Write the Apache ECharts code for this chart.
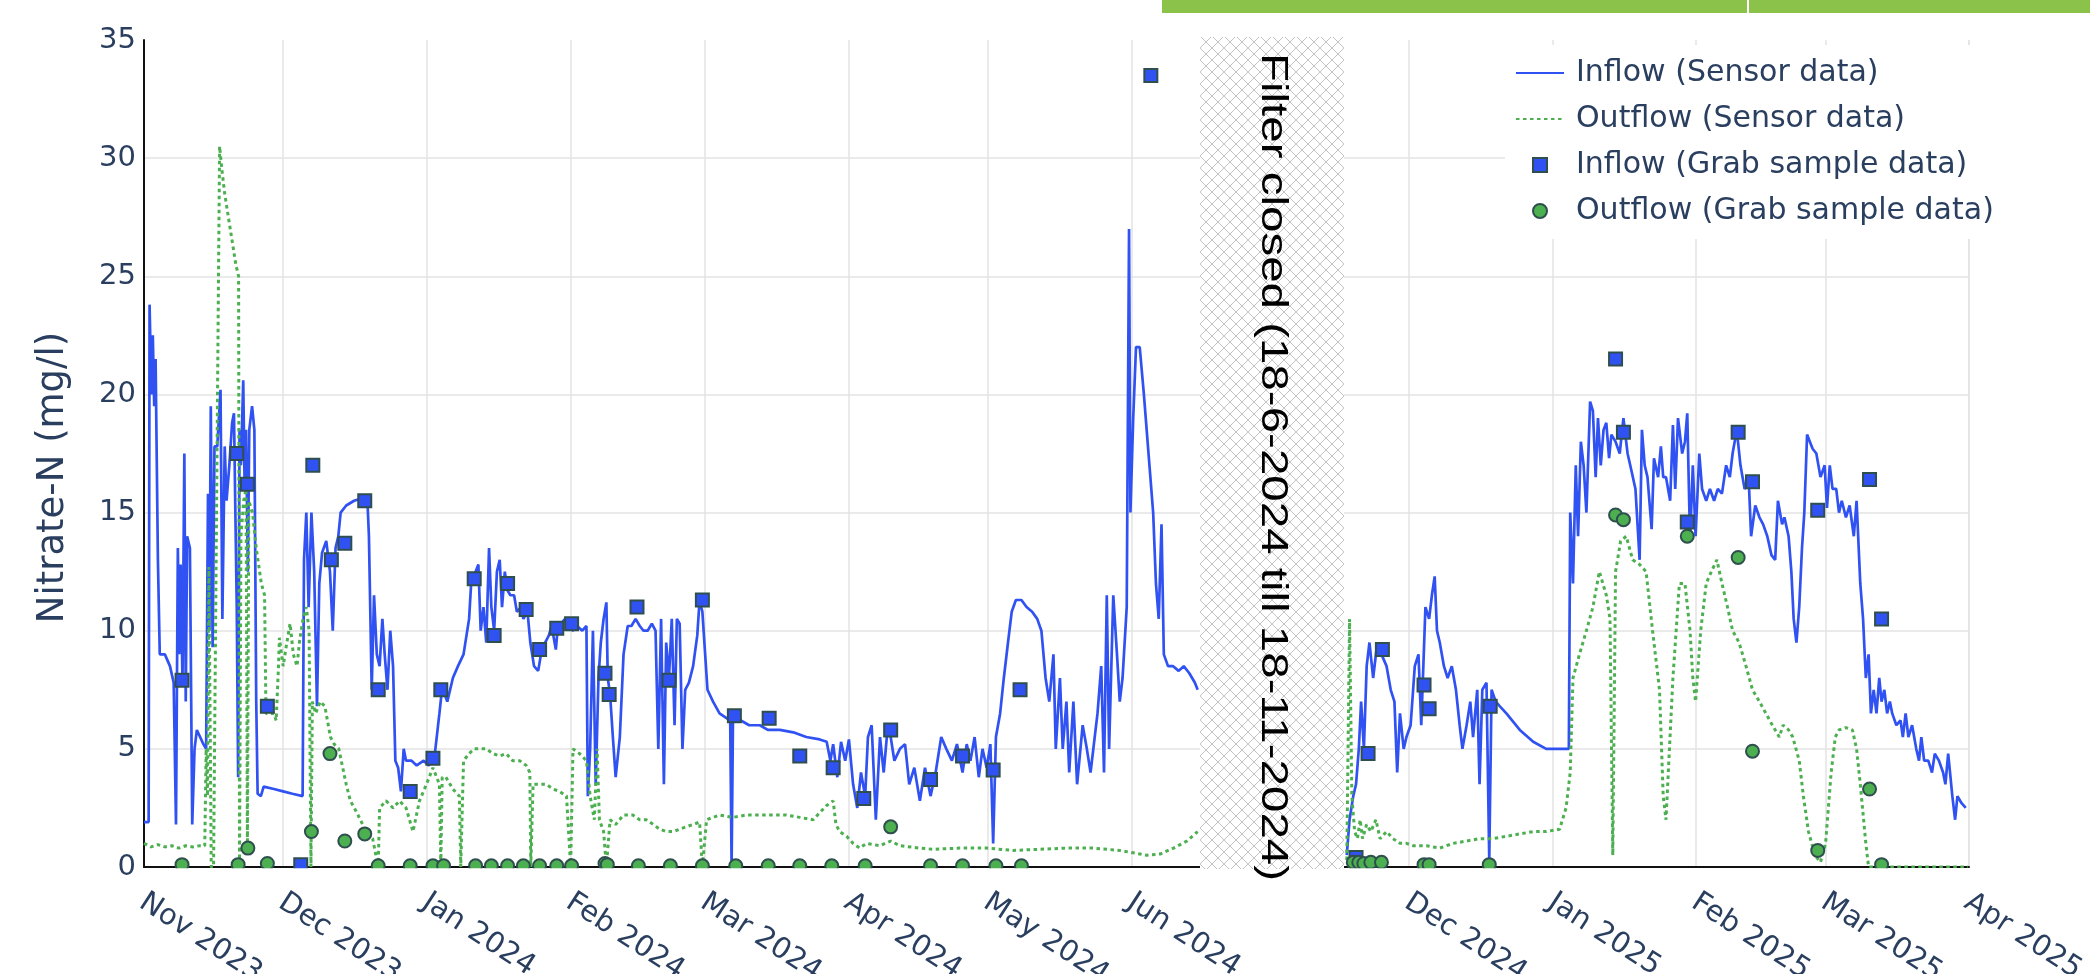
<!DOCTYPE html>
<html>
<head>
<meta charset="utf-8">
<title>Nitrate-N inflow and outflow</title>
<script src="https://cdn.jsdelivr.net/npm/echarts@6/dist/echarts.min.js"></script>
<style>
  html, body { margin: 0; padding: 0; background: #ffffff; }
  #chart { width: 2090px; height: 974px; }
</style>
</head>
<body>
<div id="chart"></div>
<script>
// ---- Measurement series -------------------------------------------------
// Period A: days since 1 Nov 2023, Period B: days since 1 Dec 2024 (negative = late Nov 2024).
// Each row: [day, nitrate-N in mg/l]

const inflowSensorA = [
  [0,1.9],[1.0,1.9],[1.2,23.8],[1.6,20],[1.9,22.5],[2.2,19.5],[2.5,21.5],[3.0,13],[3.4,9],[4.5,9],
  [5.6,8.5],[6.4,7.8],[6.9,1.8],[7.3,13.5],[7.6,9],[7.9,12.8],[8.3,7.8],[8.7,17.5],[9.0,7.0],[9.3,14],
  [9.9,13.5],[10.4,1.8],[10.9,5],[11.4,5.8],[12.1,5.5],[12.8,5.2],[13.4,5],[13.8,15.8],[14.1,10],[14.4,19.5],
  [14.8,9.3],[15.2,17.8],[15.8,17.8],[16.5,20.2],[16.9,10.5],[17.4,17.8],[17.8,15.5],[18.4,17],[19.0,18.8],[19.4,19.2],
  [19.7,15],[20.0,11],[20.3,3.8],[20.6,18.5],[20.9,17],[21.4,20.6],[21.7,16],[22.0,18.5],[22.4,12.5],[22.7,18.5],
  [23.3,19.5],[23.8,18.5],[24.2,7],[24.5,3.1],[25.2,3.0],[25.8,3.4],[28,3.3],[30,3.2],[32,3.1],[34.2,3.0],
  [34.5,13],[35.0,15],[35.5,11],[36.1,15],[36.7,12.5],[37.3,6.8],[37.8,12],[38.4,13.3],[39.3,13.8],[40.1,12.5],
  [40.7,10],[41.3,13.5],[41.9,14],[42.4,15],[43.6,15.3],[45.3,15.5],[47.0,15.6],[48.2,15.4],[48.5,14],[49.1,7.5],
  [49.6,11.5],[50.2,9],[50.8,8.5],[51.4,10.5],[51.9,9],[52.5,7.5],[53.1,10],[53.7,8.5],[54.2,4.5],[54.8,4.2],
  [55.4,3.2],[56.0,5],[56.5,4.5],[57.7,4.5],[58.8,4.3],[60.3,4.5],[61.4,4.3],[62.6,4.6],[63.7,6.5],[64.3,7.6],
  [65.4,7],[66.6,8],[67.7,8.5],[68.9,9],[70.1,10.5],[70.6,12.2],[71.5,12.5],[72.1,12.8],[72.6,10],[73.2,11],
  [73.8,9.5],[74.4,13.5],[74.9,11],[75.5,10],[76.1,12.5],[76.7,13],[77.2,11],[77.8,12.5],[78.4,11.7],[79.0,11.5],
  [79.8,11.5],[80.4,10.8],[81.3,11],[81.8,10.5],[82.7,10.8],[83.3,9.5],[84.1,8.5],[85.0,8.3],[85.6,9],[86.5,9.5],
  [87.3,9.8],[87.9,10.2],[88.8,9.2],[89.3,10.3],[89.9,10.3],[90.8,10.5],[91.3,10.2],[92.5,10],[93.4,10.2],[94.5,10],
  [95.4,10.2],[95.7,3],[96.2,5],[96.8,10],[97.4,3.5],[98.0,8],[98.5,9.5],[99.1,10.5],[99.7,11.2],[100.0,8],
  [100.5,7.3],[101.1,5.5],[101.7,3.8],[102.6,5.5],[103.4,9],[104.3,10.2],[105.1,10.2],[106.0,10.5],[106.9,10.2],[107.7,10],
  [108.6,10],[109.5,10.3],[110.3,10],[110.9,5],[111.5,10.5],[112.1,3.5],[112.6,9.5],[113.2,8],[113.8,10.5],[114.4,6],
  [114.9,10.5],[115.5,10.3],[116.1,5],[116.7,7.5],[117.5,7.8],[118.4,8.5],[119.3,9.8],[119.8,11.3],[120.4,10.8],[121.0,9],
  [121.5,7.5],[122.7,7],[124.1,6.5],[125.6,6.3],[126.4,6.2],[126.7,0],[127.0,6.3],[128.7,6.2],[130.5,6],[132.8,6],
  [134.5,5.8],[137.1,5.8],[140.0,5.7],[142.8,5.5],[145.7,5.4],[147.2,5.3],[148.0,4.5],[148.6,5.2],[149.5,3.8],[150.3,5.3],
  [151.2,4.5],[152.0,5.4],[152.9,3.5],[153.8,2.5],[154.6,4],[155.5,3],[156.1,5.5],[156.9,6],[157.8,2],[158.7,5.5],
  [159.5,4],[160.4,6],[161.0,5.5],[161.8,4.5],[163.0,5],[164.1,5.2],[165.0,3.5],[166.1,4.2],[167.3,2.8],[168.4,4.2],
  [169.6,3],[170.7,4],[171.9,5.5],[173.0,5],[174.2,4.5],[175.3,5.2],[176.5,4],[177.4,5.2],[178.2,4.5],[179.1,5.5],
  [180.0,3.8],[180.8,5],[181.7,4.2],[182.5,5.2],[183.1,1],[183.7,5.5],[184.6,6.5],[185.4,8],[186.3,9.5],[187.1,10.8],
  [188.0,11.3],[189.2,11.3],[190.3,11],[191.5,10.8],[192.6,10.5],[193.5,10],[194.4,8],[195.2,7],[196.1,9],[196.6,5],
  [197.5,8],[198.1,5],[198.9,7],[199.5,4],[200.4,7],[201.2,3.5],[202.4,6],[203.3,5],[204.1,4],[204.7,5],
  [205.6,6.5],[206.4,8.5],[207.0,4],[207.6,11.5],[208.1,5],[209.0,11.5],[209.8,9],[210.4,7],[211.0,8],[211.9,11],
  [212.4,27],[212.7,15],[213.3,19],[213.9,22],[214.7,22],[215.6,20],[216.8,17],[217.6,15],[218.2,12],[218.8,10.5],
  [219.4,14.5],[219.9,9],[220.8,8.5],[221.9,8.5],[223.1,8.3],[224.2,8.5],[225.4,8.2],[226.6,7.8],[227.2,7.5]
];

const outflowSensorA = [
  [0,1.0],[1.5,0.85],[3,0.95],[4.5,0.85],[6,0.9],[7.5,0.8],[9,0.9],[10.5,0.85],[12,0.9],[13.1,0.9],
  [13.4,5],[13.7,3],[14.0,12.7],[14.5,0],[15.0,0],[16.3,30.5],[16.8,29.5],[17.4,28.5],[18.2,27.5],[19.0,26.5],
  [19.8,25.5],[20.4,25],[20.6,0],[20.9,14],[21.5,15.5],[22.0,16],[22.3,0.8],[22.6,15.5],[23.4,15],[24.2,13.5],
  [25.3,12],[26.0,11.5],[26.3,6.5],[28.0,6.5],[28.5,6.2],[29.0,8.5],[29.2,9.7],[30.0,8.5],[30.8,9.5],[31.5,10.3],
  [32.2,9],[33.0,8.5],[33.5,9.5],[34.3,10.5],[35.0,11],[35.6,10],[36.0,0],[36.3,7],[37.0,6.5],[38.0,7],
  [39.0,6.8],[40.2,5.5],[41.0,5.2],[42.0,5],[43.6,3.5],[44.5,2.8],[45.9,2.3],[47.9,1.5],[49.3,1.2],[50.5,0],
  [50.8,2.5],[52.2,2.8],[53.7,2.5],[55.1,2.8],[56.5,2.5],[58.0,1.5],[59.4,2.8],[60.9,3.5],[62.3,4.2],[63.7,3.5],
  [64.0,0],[64.3,3.8],[65.1,3.8],[66.6,3.3],[68.0,3.0],[68.3,0],[68.9,4.5],[70.1,4.8],[71.2,5],[72.4,5],
  [73.8,5],[75.2,4.8],[76.7,4.7],[78.1,4.8],[79.5,4.5],[81.0,4.5],[82.4,4.3],[83.2,4],[83.4,0],[83.9,3.5],
  [85.3,3.5],[86.7,3.5],[88.2,3.3],[89.6,3.2],[91.1,3.0],[92.0,0],[92.5,5],[93.9,4.8],[95.4,4.5],[96.2,3],
  [97.1,2],[97.7,5],[98.2,2],[99.1,1.5],[99.7,0],[100.5,2],[101.7,1.8],[103.4,2.2],[105.4,2.2],[106.9,2.0],
  [108.3,2.0],[109.8,1.8],[111.2,1.6],[112.6,1.5],[114.1,1.5],[115.5,1.6],[116.9,1.7],[118.4,1.8],[119.8,1.9],[120.4,0],
  [121.3,2.0],[124.1,2.2],[127.0,2.1],[129.9,2.2],[132.8,2.2],[135.6,2.2],[138.5,2.2],[141.4,2.1],[144.3,2.0],[145.7,2.3],
  [147.2,2.6],[148.6,2.8],[149.2,1.8],[150.0,1.5],[151.5,1.3],[152.9,1.0],[154.3,0.8],[155.8,1.0],[158.7,0.9],[161.0,1.1],
  [163.0,0.9],[167.3,0.8],[170.2,0.75],[175.9,0.8],[181.7,0.8],[187.4,0.7],[193.2,0.75],[198.9,0.8],[204.7,0.8],[210.4,0.7],
  [213.3,0.6],[216.2,0.5],[219.1,0.55],[222.0,0.8],[224.9,1.1],[227.2,1.5]
];

const inflowGrabA = [
  [8.2,7.9],[20.0,17.5],[22.3,16.2],[26.6,6.8],[33.8,0.1],[36.4,17.0],[40.4,13.0],[43.3,13.7],[47.6,15.5],[50.5,7.5],
  [57.4,3.2],[62.3,4.6],[64.0,7.5],[71.2,12.2],[75.5,9.8],[78.4,12.0],[82.4,10.9],[85.3,9.2],[89.0,10.1],[92.2,10.3],
  [99.4,8.2],[100.3,7.3],[106.3,11.0],[113.2,7.9],[120.4,11.3],[127.3,6.4],[134.8,6.3],[141.4,4.7],[148.6,4.2],[155.2,2.9],
  [161.0,5.8],[169.6,3.7],[176.5,4.7],[183.1,4.1],[188.9,7.5],[217.1,33.5]
];

const outflowGrabA = [
  [8.2,0.1],[20.3,0.1],[22.4,0.8],[26.6,0.15],[36.1,1.5],[40.1,4.8],[43.3,1.1],[47.6,1.4],[50.5,0.05],[57.4,0.05],
  [62.3,0.05],[64.6,0.05],[71.5,0.05],[74.9,0.05],[78.4,0.05],[81.8,0.05],[85.3,0.05],[89.0,0.05],[92.2,0.05],[99.4,0.15],
  [99.9,0.1],[106.6,0.05],[113.5,0.05],[120.4,0.05],[127.6,0.05],[134.6,0.05],[141.4,0.05],[148.3,0.05],[155.5,0.05],[161.0,1.7],
  [169.6,0.05],[176.5,0.05],[183.7,0.05],[189.2,0.05]
];

const inflowSensorB = [
  [-13.5,0.5],[-12.9,2],[-12.1,3],[-11.5,3.5],[-10.9,5],[-10.4,7],[-9.8,5],[-9.2,8.5],[-8.6,9.5],[-7.8,8],
  [-6.9,9.5],[-6.0,9],[-4.9,8.5],[-4.0,7.5],[-3.2,7],[-2.6,4],[-2.0,6.5],[-1.2,5],[-0.6,5.5],[0.3,6],
  [1.2,8.5],[2.0,9],[2.6,6],[3.5,11],[4.3,10.5],[4.9,11.5],[5.5,12.3],[6.0,10],[6.6,9.5],[7.5,8.5],
  [8.3,8],[9.2,8.5],[10.1,7.5],[10.9,6],[11.5,5],[12.4,6],[13.2,7],[13.8,5.5],[14.7,7.5],[15.2,3.5],
  [15.8,7.5],[16.7,7.8],[17.3,0.3],[17.8,7.5],[18.7,7],[19.6,6.8],[21.0,6.5],[23.9,5.8],[26.8,5.3],[29.6,5],
  [32.5,5],[34.5,5],[34.8,15],[35.4,12],[36.0,17],[36.5,14],[37.1,18],[37.7,17],[38.3,15],[39.1,19.7],
  [39.7,19.3],[40.3,16.5],[40.8,19],[41.4,17],[42.0,18.5],[42.6,18.8],[43.2,17.3],[43.7,18.3],[44.6,18],[45.5,17.5],
  [46.3,19],[47.2,17.5],[48.0,16.8],[48.9,16],[49.8,13],[50.3,18.5],[50.9,17],[51.5,16.5],[52.4,14.3],[52.9,17.3],
  [53.8,16.5],[54.4,17.8],[54.9,16.5],[55.5,16.5],[56.4,15.5],[57.0,18.7],[57.5,16],[58.1,19],[59.0,17.5],[59.6,18],
  [60.1,19.2],[60.7,13.8],[61.3,17],[61.9,14],[62.7,17.5],[63.3,16],[64.2,15.5],[65.0,16],[65.9,15.5],[66.7,16],
  [67.6,15.8],[68.5,17],[69.3,16.5],[69.9,17.5],[70.8,18.5],[71.6,17],[72.5,16],[73.4,16.3],[73.9,14],[74.8,15.3],
  [75.7,14.8],[76.5,14.5],[77.4,14],[78.3,13.2],[79.1,13],[79.7,15.5],[80.6,14.5],[81.1,14.8],[82.0,14],[82.6,12.5],
  [83.1,10.5],[83.7,9.5],[84.3,11],[84.9,13.5],[85.4,15],[86.0,18.3],[86.6,18],[87.2,17.7],[88.0,17.5],[88.9,16.5],
  [89.8,17],[90.3,15.2],[90.9,17],[91.5,16],[92.3,16],[92.9,15],[93.5,15.5],[94.4,14.8],[95.2,15.3],[96.1,14],
  [96.7,15.5],[97.5,12],[98.1,10.5],[98.7,8],[99.3,9],[99.8,6.5],[100.4,7.5],[101.0,6.5],[101.6,8],[102.1,7],
  [102.7,7.5],[103.3,6.5],[103.9,7],[104.4,6.5],[105.3,6],[106.2,6.2],[106.7,5.5],[107.3,6.5],[107.9,5.5],[108.7,6],
  [109.6,5],[110.2,4.5],[110.7,5.5],[111.3,4.5],[112.2,4.5],[113.0,4],[113.6,4.8],[114.5,4.5],[115.4,4],[115.9,3.5],
  [116.5,4.8],[117.4,3],[118.0,2],[118.5,3],[119.4,2.7],[120.3,2.5]
];

const outflowSensorB = [
  [-13.5,0.3],[-12.9,10.5],[-12.4,3],[-11.8,1.5],[-11.2,1.2],[-10.6,2],[-10.1,1.2],[-9.2,1.8],[-8.3,1.5],[-7.2,2],
  [-6.3,1.2],[-4.9,1.5],[-3.5,1.2],[-2.0,1.0],[-0.6,1.0],[0.9,0.9],[3.7,0.9],[6.6,0.8],[9.5,1.0],[12.4,1.1],
  [15.2,1.2],[18.1,1.2],[21.0,1.3],[23.9,1.4],[26.8,1.5],[29.6,1.5],[32.5,1.6],[33.9,2.5],[34.8,4],[35.4,8],
  [36.8,9],[38.3,10],[39.7,11],[41.1,12.5],[42.6,11.5],[43.4,10.5],[44.0,0.5],[44.6,12.5],[45.7,13.8],[46.9,14],
  [48.3,13],[49.8,12.8],[51.2,12.5],[52.6,10],[54.1,7.5],[54.9,3],[55.5,2],[57.0,8],[58.4,12],[59.6,12],
  [60.7,10],[61.3,8],[61.9,7],[63.0,10],[64.2,12],[65.3,12.5],[66.5,13],[67.6,12],[68.8,11],[69.9,10],
  [71.3,9.5],[72.8,8.5],[74.2,7.5],[75.7,7],[77.1,6.5],[78.5,6],[80.0,5.5],[80.8,6],[82.0,5.8],[82.9,5.5],
  [84.3,4.5],[85.2,3],[86.3,1.5],[87.7,0.5],[88.9,0.2],[90.0,1],[91.2,4],[92.1,5.5],[92.9,5.8],[94.4,5.9],
  [95.8,5.8],[96.7,5],[97.5,3.5],[98.7,1],[99.3,0],[110.2,0],[120.8,0]
];

const inflowGrabB = [
  [-11.5,0.4],[-8.9,4.8],[-5.8,9.2],[3.2,7.7],[4.3,6.7],[17.5,6.8],[44.6,21.5],[46.3,18.4],[60.1,14.6],[71.1,18.4],
  [74.2,16.3],[88.3,15.1],[99.5,16.4],[102.1,10.5]
];

const outflowGrabB = [
  [-12.1,0.2],[-10.9,0.2],[-9.8,0.15],[-8.3,0.2],[-6.0,0.2],[3.2,0.1],[4.3,0.1],[17.3,0.1],[44.6,14.9],[46.3,14.7],
  [60.1,14.0],[71.1,13.1],[74.2,4.9],[88.3,0.7],[99.5,3.3],[102.1,0.1]
];

const seriesNames = [
  'Inflow (Sensor data)',
  'Outflow (Sensor data)',
  'Inflow (Grab sample data)',
  'Outflow (Grab sample data)'
];
const yTicks = { min: 0, max: 35, step: 5 };
const monthNames = ['Jan','Feb','Mar','Apr','May','Jun','Jul','Aug','Sep','Oct','Nov','Dec'];
const closedNote = 'Filter closed (18-6-2024 till 18-11-2024)';

// ---- Time origins and visible ranges ------------------------------------
const DAY = 86400000;
const ORIGIN_A = new Date(2023, 10, 1).getTime();
const ORIGIN_B = new Date(2024, 11, 1).getTime();
const RANGE_A = [ORIGIN_A, ORIGIN_A + 227.7 * DAY];
const RANGE_B = [ORIGIN_B - 14.1 * DAY, new Date(2025, 3, 1).getTime()];

const toPoints = (rows, origin) => rows.map(([d, v]) => [origin + d * DAY, v]);

// ---- Styling ------------------------------------------------------------
const FONT = 'DejaVu Sans';
const INK = '#2a3f5f';
const BLUE = '#3152f2';
const GREEN = '#4caf50';
const EDGE = '#2f4f4f';
const GRID_LINE = '#e3e3e3';

const PLOT_TOP = 40, PLOT_H = 827;
const A_LEFT = 144, A_W = 1056;
const B_LEFT = 1344, B_W = 625;

function hatchTile() {
  const s = 12;
  const c = document.createElement('canvas');
  c.width = s; c.height = s;
  const g = c.getContext('2d');
  g.fillStyle = '#ffffff';
  g.fillRect(0, 0, s, s);
  g.strokeStyle = '#c4c4c4';
  g.lineWidth = 1;
  g.beginPath();
  g.moveTo(0, 0); g.lineTo(s, s);
  g.moveTo(s, 0); g.lineTo(0, s);
  g.stroke();
  return c;
}

function monthLabel(v) {
  const d = new Date(v);
  return monthNames[d.getMonth()] + ' ' + d.getFullYear();
}

function timeAxis(gridIndex, range, first) {
  return {
    gridIndex,
    type: 'time',
    min: range[0],
    max: range[1],
    minInterval: 28 * DAY,
    maxInterval: 31 * DAY,
    axisLine: { show: true, onZero: false, lineStyle: { color: '#111111', width: 2 } },
    axisTick: { show: false },
    axisLabel: {
      rotate: -33,
      margin: 17,
      align: 'left',
      verticalAlign: 'top',
      padding: [0, 0, 0, 7],
      fontFamily: FONT,
      fontSize: 29,
      color: INK,
      showMinLabel: first,
      showMaxLabel: !first,
      hideOverlap: false,
      formatter: monthLabel
    },
    splitLine: {
      show: true,
      showMinLine: first,
      showMaxLine: !first,
      lineStyle: { color: GRID_LINE, width: 1.5 }
    }
  };
}

function valueAxis(gridIndex, first) {
  return {
    gridIndex,
    type: 'value',
    min: yTicks.min,
    max: yTicks.max,
    interval: yTicks.step,
    name: first ? 'Nitrate-N (mg/l)' : '',
    nameLocation: 'middle',
    nameGap: 72,
    nameTextStyle: { fontFamily: FONT, fontSize: 37, color: INK, padding: [0, 48, 0, 0] },
    axisLine: { show: first, lineStyle: { color: '#111111', width: 2 } },
    axisTick: { show: false },
    axisLabel: { show: first, fontFamily: FONT, fontSize: 29, color: INK, margin: 8 },
    splitLine: { show: true, showMaxLine: false, showMinLine: false, lineStyle: { color: GRID_LINE, width: 1.5 } }
  };
}

function sensorLine(name, rows, origin, axis, color, dotted) {
  return {
    name,
    type: 'line',
    xAxisIndex: axis,
    yAxisIndex: axis,
    data: toPoints(rows, origin),
    showSymbol: false,
    symbol: 'none',
    smooth: false,
    clip: true,
    lineStyle: dotted
      ? { color, width: 3, type: [3.5, 3.5] }
      : { color, width: 2.7 },
    itemStyle: { color },
    z: 2
  };
}

const SQUARE = 'path://M0,0H10V10H0Z';

function grabPoints(name, rows, origin, axis, color, symbol) {
  return {
    name,
    type: 'scatter',
    xAxisIndex: axis,
    yAxisIndex: axis,
    data: toPoints(rows, origin),
    symbol,
    symbolSize: 13,
    symbolKeepAspect: true,
    itemStyle: { color, borderColor: EDGE, borderWidth: 2, opacity: 1 },
    z: 3
  };
}

const chart = echarts.init(document.getElementById('chart'), null, { renderer: 'canvas' });

const option = {
  backgroundColor: '#ffffff',
  animation: false,
  textStyle: { fontFamily: FONT },
  grid: [
    { left: A_LEFT, top: PLOT_TOP, width: A_W, height: PLOT_H, containLabel: false, outerBoundsMode: 'none' },
    { left: B_LEFT, top: PLOT_TOP, width: B_W, height: PLOT_H, containLabel: false, outerBoundsMode: 'none' }
  ],
  xAxis: [timeAxis(0, RANGE_A, true), timeAxis(1, RANGE_B, false)],
  yAxis: [valueAxis(0, true), valueAxis(1, false)],
  legend: {
    orient: 'vertical',
    left: 1505,
    top: 45,
    padding: [13, 12, 13, 10],
    backgroundColor: '#ffffff',
    itemWidth: 48,
    itemHeight: 14,
    itemGap: 16,
    selectedMode: false,
    textStyle: { fontFamily: FONT, fontSize: 30, color: INK, lineHeight: 30, padding: [0, 0, 0, 7] },
    data: [
      { name: seriesNames[0], itemStyle: { opacity: 0 } },
      { name: seriesNames[1], itemStyle: { opacity: 0 } },
      { name: seriesNames[2], icon: SQUARE },
      { name: seriesNames[3], icon: 'circle' }
    ]
  },
  series: [
    sensorLine(seriesNames[0], inflowSensorA, ORIGIN_A, 0, BLUE, false),
    sensorLine(seriesNames[1], outflowSensorA, ORIGIN_A, 0, GREEN, true),
    grabPoints(seriesNames[2], inflowGrabA, ORIGIN_A, 0, BLUE, SQUARE),
    grabPoints(seriesNames[3], outflowGrabA, ORIGIN_A, 0, GREEN, 'circle'),
    sensorLine(seriesNames[0], inflowSensorB, ORIGIN_B, 1, BLUE, false),
    sensorLine(seriesNames[1], outflowSensorB, ORIGIN_B, 1, GREEN, true),
    grabPoints(seriesNames[2], inflowGrabB, ORIGIN_B, 1, BLUE, SQUARE),
    grabPoints(seriesNames[3], outflowGrabB, ORIGIN_B, 1, GREEN, 'circle')
  ],
  graphic: [
    // page navigation strip along the top edge
    { type: 'rect', shape: { x: 1162, y: 0, width: 585, height: 13 }, style: { fill: '#8bc34a' }, silent: true },
    { type: 'rect', shape: { x: 1749, y: 0, width: 341, height: 13 }, style: { fill: '#8bc34a' }, silent: true },
    // markers are cut off at the lower edge of the plot area
    { type: 'rect', shape: { x: A_LEFT + 1, y: PLOT_TOP + PLOT_H + 1.2, width: B_LEFT + B_W - A_LEFT + 6, height: 10 },
      style: { fill: '#ffffff' }, z: 4, silent: true },
    // period without measurements
    { type: 'rect', shape: { x: A_LEFT + A_W, y: PLOT_TOP - 3, width: B_LEFT - A_LEFT - A_W, height: PLOT_H + 5 },
      style: { fill: { image: hatchTile(), repeat: 'repeat' } }, z: 5, silent: true },
    { type: 'text', x: (A_LEFT + A_W + B_LEFT) / 2, y: 467, rotation: -Math.PI / 2, scaleY: 0.78, z: 6, silent: true,
      style: { text: closedNote, fill: '#000000', font: '47.5px "Liberation Sans", Arial, sans-serif',
               align: 'center', verticalAlign: 'middle' } }
  ]
};

chart.setOption(option);
</script>
</body>
</html>
